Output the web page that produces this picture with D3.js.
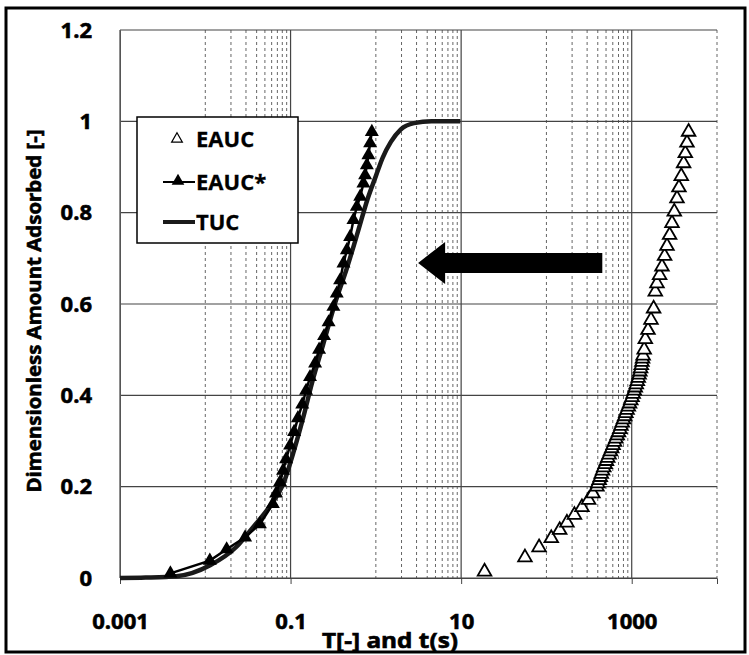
<!DOCTYPE html>
<html>
<head>
<meta charset="utf-8">
<script src="https://cdn.jsdelivr.net/npm/d3@7"></script>
<style>
  body { margin: 0; background: #fff; }
  text { font-family: "Open Sans", "Liberation Sans", sans-serif; font-weight: 700; fill: #000; }
</style>
</head>
<body>
<div class="canvas"></div>
<script>
// tick labels
const xTicks = [0.001, 0.1, 10, 1000];
const xTickLabels = ["0.001", "0.1", "10", "1000"];
const yTicks = [0, 0.2, 0.4, 0.6, 0.8, 1, 1.2];
const yTickLabels = ["0", "0.2", "0.4", "0.6", "0.8", "1", "1.2"];

// TUC - theoretical uptake curve (T[-])
const tucTime = [0.001, 0.002, 0.0046, 0.0114, 0.0234, 0.0366, 0.0575, 0.0824, 0.11, 0.14, 0.18, 0.24, 0.33, 0.46, 0.62, 0.8, 1.0, 1.2, 1.5, 1.95, 2.8, 4.5, 9.8];
const tucAmount = [0, 0.001, 0.004, 0.028, 0.069, 0.112, 0.158, 0.207, 0.28, 0.35, 0.43, 0.51, 0.6, 0.68, 0.76, 0.83, 0.88, 0.92, 0.955, 0.982, 0.996, 1.0, 1.0];

// EAUC* - scaled experimental curve
const eaucStarTime = [0.0039, 0.0113, 0.0178, 0.0293, 0.0437, 0.062, 0.0676, 0.0753, 0.0817, 0.0886, 0.0987, 0.110, 0.122, 0.137, 0.152, 0.169, 0.194, 0.216, 0.247, 0.279, 0.318, 0.348, 0.381, 0.417, 0.457, 0.499, 0.546, 0.598, 0.655, 0.715, 0.748, 0.784, 0.818, 0.857, 0.897];
const eaucStarAmount = [0.01, 0.038, 0.063, 0.089, 0.118, 0.162, 0.185, 0.21, 0.235, 0.26, 0.29, 0.32, 0.35, 0.38, 0.41, 0.44, 0.47, 0.50, 0.53, 0.56, 0.594, 0.623, 0.652, 0.689, 0.718, 0.747, 0.784, 0.813, 0.835, 0.864, 0.882, 0.904, 0.926, 0.952, 0.977];

// EAUC - experimental curve, t(s)
const eaucTime = [18.8, 56, 82, 114, 143, 174, 213, 261, 312, 351, 391,
  400, 415, 428, 440, 455, 470, 488, 505, 523, 543, 563, 583, 605, 628, 652, 676, 700, 725, 748, 773, 800, 826, 853, 882, 912, 943, 975, 1008, 1040, 1070, 1100, 1130, 1163, 1193, 1220, 1245, 1270, 1295, 1318, 1340, 1360,
  1400, 1443, 1552, 1683, 1806, 1890, 1978, 2123, 2264, 2430, 2592, 2782, 2966, 3157, 3395, 3580, 3810, 4060, 4250, 4446, 4645];
const eaucAmount = [0.014, 0.045, 0.067, 0.087, 0.105, 0.121, 0.138, 0.155, 0.171, 0.185, 0.2,
  0.207, 0.214, 0.221, 0.228, 0.235, 0.242, 0.249, 0.256, 0.263, 0.270, 0.277, 0.284, 0.291, 0.298, 0.305, 0.312, 0.319, 0.326, 0.333, 0.340, 0.347, 0.354, 0.361, 0.368, 0.375, 0.382, 0.389, 0.396, 0.403, 0.410, 0.417, 0.424, 0.431, 0.438, 0.445, 0.452, 0.459, 0.466, 0.473, 0.480, 0.487,
  0.50, 0.523, 0.543, 0.565, 0.59, 0.627, 0.645, 0.663, 0.682, 0.705, 0.727, 0.751, 0.777, 0.802, 0.831, 0.855, 0.88, 0.908, 0.93, 0.953, 0.977];

// big arrow annotation (from t=452 back to T=3.1 at level 0.69)
const arrowFrom = 452, arrowTo = 3.13, arrowLevel = 0.69;

const W = 749, H = 655;
const svg = d3.select(".canvas").append("svg").attr("width", W).attr("height", H);

const x = d3.scaleLog().domain([0.001, 10000]).range([120, 717]);
const y = d3.scaleLinear().domain([0, 1.2]).range([578, 30]);

// outer frame
svg.append("rect").attr("x", 6).attr("y", 8).attr("width", 739).attr("height", 644)
  .attr("fill", "#fff").attr("stroke", "#000").attr("stroke-width", 3);

// minor vertical gridlines (Excel log base 100 style)
const minor = [];
xTicks.forEach(m => {
  for (let k = 1; k <= 9; k++) {
    const v = k * m * 10;
    if (v <= 10000) minor.push(v);
  }
});
svg.append("g").selectAll("line").data(minor).join("line")
  .attr("x1", d => x(d)).attr("x2", d => x(d))
  .attr("y1", y(1.2)).attr("y2", y(0))
  .attr("stroke", "#666").attr("stroke-width", 1).attr("stroke-dasharray", "3,3");

// major gridlines
svg.append("g").selectAll("line").data(xTicks).join("line")
  .attr("x1", d => x(d)).attr("x2", d => x(d))
  .attr("y1", y(1.2)).attr("y2", y(0))
  .attr("stroke", "#444").attr("stroke-width", 1.2);
svg.append("g").selectAll("line").data(yTicks).join("line")
  .attr("x1", x(0.001)).attr("x2", x(10000))
  .attr("y1", d => y(d)).attr("y2", d => y(d))
  .attr("stroke", "#444").attr("stroke-width", 1.2);

// axes
const xAxis = d3.axisBottom(x).tickValues(xTicks).tickFormat((d, i) => xTickLabels[i]).tickSize(6);
const gx = svg.append("g").attr("transform", `translate(0, ${y(0)})`).call(xAxis);
gx.select(".domain").attr("stroke", "#444");
gx.selectAll(".tick line").attr("stroke", "#444");
gx.selectAll("text").attr("y", 35).attr("dy", "0.71em")
  .attr("font-size", 22).attr("font-family", "'Open Sans', sans-serif").attr("font-weight", 700)
  .attr("stroke", "#000").attr("stroke-width", 0.6);

const yAxis = d3.axisLeft(y).tickValues(yTicks).tickFormat((d, i) => yTickLabels[i]).tickSize(0).tickPadding(28);
const gy = svg.append("g").attr("transform", `translate(${x(0.001)}, 0)`).call(yAxis);
gy.select(".domain").attr("stroke", "#555");
gy.selectAll("text").attr("font-size", 22).attr("font-family", "'Open Sans', sans-serif").attr("font-weight", 700)
  .attr("stroke", "#000").attr("stroke-width", 0.6);

// axis titles
svg.append("text").attr("x", 390).attr("y", 648).attr("text-anchor", "middle")
  .attr("font-size", 21).attr("textLength", 136).attr("lengthAdjust", "spacingAndGlyphs")
  .attr("stroke", "#000").attr("stroke-width", 0.6)
  .text("T[-] and t(s)");
svg.append("text").attr("transform", "translate(41, 311) rotate(-90)").attr("text-anchor", "middle")
  .attr("font-size", 20).attr("textLength", 363).attr("lengthAdjust", "spacingAndGlyphs")
  .attr("stroke", "#000").attr("stroke-width", 0.6)
  .text("Dimensionless Amount Adsorbed [-]");

// TUC line
const tuc = tucTime.map((t, i) => [t, tucAmount[i]]);
svg.append("path").datum(tuc)
  .attr("fill", "none").attr("stroke", "#1a1a1a").attr("stroke-width", 4.5)
  .attr("d", d3.line().x(d => x(d[0])).y(d => y(d[1])).curve(d3.curveMonotoneX));

// EAUC* line + filled triangles
const star = eaucStarTime.map((t, i) => [t, eaucStarAmount[i]]);
svg.append("path").datum(star)
  .attr("fill", "none").attr("stroke", "#000").attr("stroke-width", 2.5)
  .attr("d", d3.line().x(d => x(d[0])).y(d => y(d[1])));
const triFilled = d3.symbol(d3.symbolTriangle).size(85);
svg.append("g").selectAll("path").data(star).join("path")
  .attr("transform", d => `translate(${x(d[0])}, ${y(d[1])})`)
  .attr("d", triFilled).attr("fill", "#000");

// EAUC open triangles
const eauc = eaucTime.map((t, i) => [t, eaucAmount[i]]);
const triOpen = d3.symbol(d3.symbolTriangle).size(80);
svg.append("g").selectAll("path").data(eauc).join("path")
  .attr("transform", d => `translate(${x(d[0])}, ${y(d[1])})`)
  .attr("d", triOpen).attr("fill", "#fff").attr("stroke", "#000").attr("stroke-width", 1.8);

// arrow
const ax0 = x(arrowFrom), ax1 = x(arrowTo), ay = y(arrowLevel);
const headLen = 27, headH = 21, shaftH = 10;
svg.append("path")
  .attr("d", `M${ax1},${ay} L${ax1 + headLen},${ay - headH} L${ax1 + headLen},${ay - shaftH} L${ax0},${ay - shaftH} L${ax0},${ay + shaftH} L${ax1 + headLen},${ay + shaftH} L${ax1 + headLen},${ay + headH} Z`)
  .attr("fill", "#000");

// legend
const lg = svg.append("g");
lg.append("rect").attr("x", 137).attr("y", 117).attr("width", 161).attr("height", 126)
  .attr("fill", "#fff").attr("stroke", "#000").attr("stroke-width", 1.5);
lg.append("path").attr("transform", "translate(177,139)")
  .attr("d", d3.symbol(d3.symbolTriangle).size(50)).attr("fill", "#fff").attr("stroke", "#000").attr("stroke-width", 1.2);
lg.append("line").attr("x1", 163).attr("x2", 195).attr("y1", 182).attr("y2", 182).attr("stroke", "#000").attr("stroke-width", 2);
lg.append("path").attr("transform", "translate(178,181)")
  .attr("d", d3.symbol(d3.symbolTriangle).size(70)).attr("fill", "#000");
lg.append("line").attr("x1", 163).attr("x2", 195).attr("y1", 222).attr("y2", 222).attr("stroke", "#1a1a1a").attr("stroke-width", 4);
const legendLabels = ["EAUC", "EAUC*", "TUC"];
lg.selectAll("text.lab").data(legendLabels).join("text").attr("class", "lab")
  .attr("x", 196).attr("y", (d, i) => [139, 182, 222][i]).attr("dy", "0.35em")
  .attr("font-size", 22).attr("stroke", "#000").attr("stroke-width", 0.3).text(d => d);
</script>
</body>
</html>
